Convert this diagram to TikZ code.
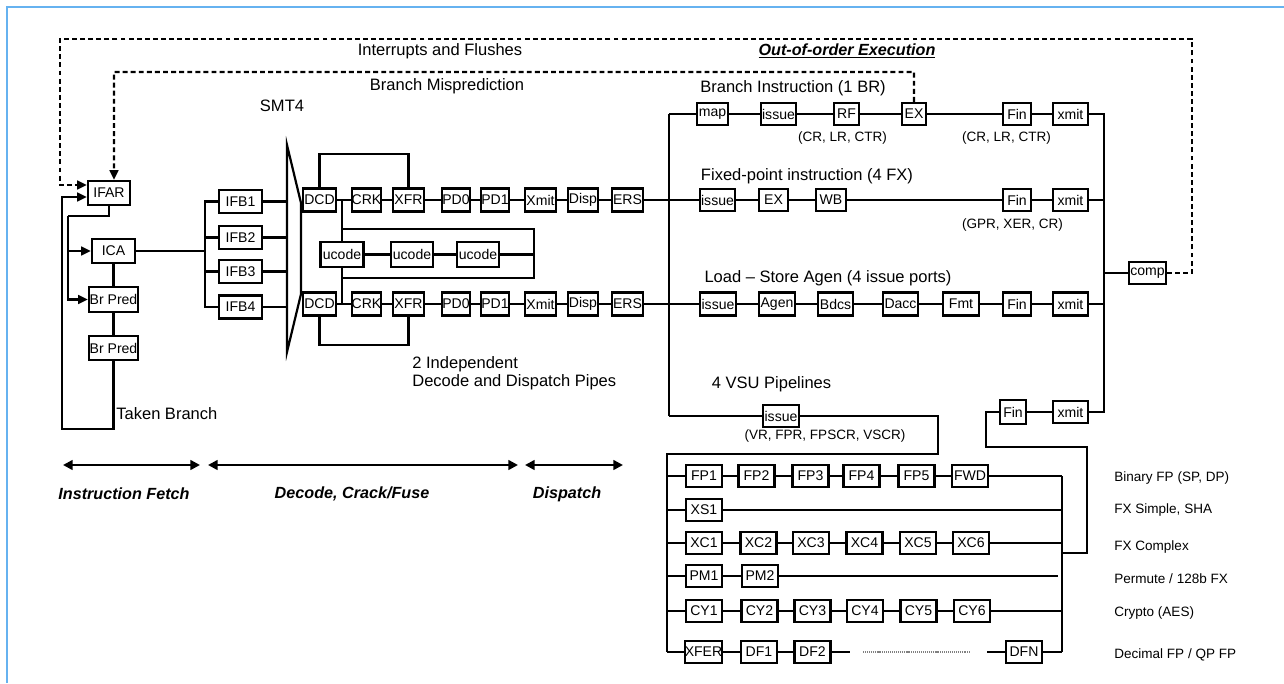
\documentclass[tikz,border=0pt]{standalone}
\usepackage{fontspec}
\setmainfont{Liberation Sans}
\usetikzlibrary{arrows.meta, positioning, calc}
\definecolor{frameblue}{RGB}{102,178,240}

\begin{document}
\begin{tikzpicture}[
    x=0.02cm, y=-0.02cm,
    stage/.style={
      rectangle,
      draw,
      fill=white,
      line width=1.3pt,
      inner sep=0pt,
      minimum width=0.62cm,
      minimum height=0.46cm,
      font=\fontsize{8}{9}\selectfont
    },
    vsu/.style={
      stage,
      minimum width=0.72cm,
      minimum height=0.43cm
    },
    wire/.style={
      line width=1.25pt
    },
    arrow/.style={
      wire,
      -{Triangle[length=5.5pt,width=5pt]}
    },
    flushline/.style={
      line width=1.2pt,
      dash pattern=on 2.8pt off 1.8pt,
      -{Triangle[length=5.5pt,width=5pt]}
    },
    span/.style={
      line width=1.5pt,
      {Triangle[length=5.5pt,width=5.5pt]}-{Triangle[length=5.5pt,width=5.5pt]}
    },
    txt/.style={inner sep=0pt, font=\fontsize{9.4}{10.5}\selectfont},
    note/.style={inner sep=0pt, font=\fontsize{7.7}{9}\selectfont},
    phase/.style={inner sep=0pt, font=\fontsize{9.2}{10}\selectfont\bfseries\itshape}
  ]

  \useasboundingbox (0,0) rectangle (1284,683);

  % Khung
  \draw[frameblue, line width=1.6pt] (7,683) -- (7,7) -- (1284,7);

  % Khối lấy lệnh
  \node[stage, minimum width=0.84cm, minimum height=0.48cm] (ifar) at (109,193) {IFAR};
  \node[stage, minimum width=0.86cm, minimum height=0.48cm] (ica) at (113.5,251) {ICA};
  \node[stage, minimum width=0.98cm, minimum height=0.49cm] (brpredA) at (113.5,299.5) {Br Pred};
  \node[stage, minimum width=0.98cm, minimum height=0.48cm] (brpredB) at (113.5,348) {Br Pred};

  \node[stage, minimum width=0.86cm] (ifbA) at (240.5,201.5) {IFB1};
  \node[stage, minimum width=0.86cm] (ifbB) at (240.5,237.5) {IFB2};
  \node[stage, minimum width=0.86cm] (ifbC) at (240.5,271.5) {IFB3};
  \node[stage, minimum width=0.86cm] (ifbD) at (240.5,307) {IFB4};

  % Hai đường giải mã
  \node[stage, minimum width=0.66cm] (dcdA) at (319.5,200) {DCD};
  \node[stage, minimum width=0.58cm] (crkA) at (366.5,200) {CRK};
  \node[stage, minimum width=0.62cm] (xfrA) at (408.5,200) {XFR};
  \node[stage, minimum width=0.56cm] (pdzA) at (456,200) {PD0};
  \node[stage, minimum width=0.52cm] (pdoA) at (495,200) {PD1};
  \node[stage, minimum width=0.62cm] (xmitA) at (540.5,200) {Xmit};
  \node[stage, minimum width=0.60cm] (dispA) at (583,200) {Disp};
  \node[stage, minimum width=0.62cm] (ersA) at (627.5,200) {ERS};

  \node[stage, minimum width=0.66cm] (dcdB) at (319.5,304) {DCD};
  \node[stage, minimum width=0.58cm] (crkB) at (366.5,304) {CRK};
  \node[stage, minimum width=0.62cm] (xfrB) at (408.5,304) {XFR};
  \node[stage, minimum width=0.56cm] (pdzB) at (456,304) {PD0};
  \node[stage, minimum width=0.52cm] (pdoB) at (495,304) {PD1};
  \node[stage, minimum width=0.62cm] (xmitB) at (540.5,304) {Xmit};
  \node[stage, minimum width=0.60cm] (dispB) at (583,304) {Disp};
  \node[stage, minimum width=0.62cm] (ersB) at (627.5,304) {ERS};

  \node[stage, minimum width=0.86cm, minimum height=0.5cm] (ucodeA) at (342,254.5) {ucode};
  \node[stage, minimum width=0.84cm, minimum height=0.5cm] (ucodeB) at (412,254.5) {ucode};
  \node[stage, minimum width=0.84cm, minimum height=0.5cm] (ucodeC) at (478,254.5) {ucode};

  % Nhánh, số nguyên, nạp/lưu
  \node[stage, minimum height=0.44cm] (mapBR) at (712.5,114) {map};
  \node[stage, minimum width=0.70cm, minimum height=0.44cm] (issueBR) at (778.5,114) {issue};
  \node[stage, minimum width=0.50cm, minimum height=0.44cm] (rfBR) at (846.5,114) {RF};
  \node[stage, minimum width=0.48cm, minimum height=0.44cm] (exBR) at (914,114) {EX};
  \node[stage, minimum width=0.56cm, minimum height=0.44cm] (finBR) at (1017,114) {Fin};
  \node[stage, minimum width=0.70cm, minimum height=0.44cm] (xmitBR) at (1070.5,114) {xmit};

  \node[stage, minimum width=0.70cm, minimum height=0.44cm] (issueFX) at (717.5,200) {issue};
  \node[stage, minimum width=0.58cm, minimum height=0.44cm] (exFX) at (773.5,200) {EX};
  \node[stage, minimum width=0.60cm, minimum height=0.44cm] (wbFX) at (831,200) {WB};
  \node[stage, minimum width=0.56cm, minimum height=0.44cm] (finFX) at (1017,200) {Fin};
  \node[stage, minimum width=0.70cm, minimum height=0.44cm] (xmitFX) at (1070.5,200) {xmit};

  \node[stage, minimum width=0.72cm] (issueLS) at (718,304) {issue};
  \node[stage, minimum width=0.72cm] (agenLS) at (777,304) {Agen};
  \node[stage, minimum width=0.70cm] (bdcsLS) at (835.5,304) {Bdcs};
  \node[stage, minimum width=0.70cm] (daccLS) at (900.5,304) {Dacc};
  \node[stage, minimum width=0.72cm] (fmtLS) at (961,304) {Fmt};
  \node[stage, minimum width=0.56cm] (finLS) at (1017,304) {Fin};
  \node[stage, minimum width=0.70cm] (xmitLS) at (1070.5,304) {xmit};

  \node[stage, minimum width=0.74cm, minimum height=0.44cm] (comp) at (1147.5,273) {comp};

  \node[stage, minimum width=0.72cm, minimum height=0.44cm] (issueVSU) at (781,416) {issue};
  \node[stage, minimum width=0.52cm, minimum height=0.48cm] (finVSU) at (1013,412) {Fin};
  \node[stage, minimum width=0.70cm, minimum height=0.44cm] (xmitVSU) at (1070.5,412) {xmit};

  % Các đường VSU
  \node[vsu] (fpA) at (704,476) {FP1};
  \node[vsu] (fpB) at (756.5,476) {FP2};
  \node[vsu] (fpC) at (810.5,476) {FP3};
  \node[vsu] (fpD) at (861.5,476) {FP4};
  \node[vsu] (fpE) at (916.5,476) {FP5};
  \node[vsu] (fwd) at (970,476) {FWD};

  \node[vsu] (xsA) at (704,510) {XS1};

  \node[vsu] (xcA) at (704,543) {XC1};
  \node[vsu] (xcB) at (758.5,543) {XC2};
  \node[vsu] (xcC) at (811,543) {XC3};
  \node[vsu] (xcD) at (864.5,543) {XC4};
  \node[vsu] (xcE) at (918,543) {XC5};
  \node[vsu] (xcF) at (971,543) {XC6};

  \node[vsu] (pmA) at (704,576) {PM1};
  \node[vsu] (pmB) at (760,576) {PM2};

  \node[vsu] (cyA) at (704,611) {CY1};
  \node[vsu] (cyB) at (759.5,611) {CY2};
  \node[vsu] (cyC) at (812.5,611) {CY3};
  \node[vsu] (cyD) at (865,611) {CY4};
  \node[vsu] (cyE) at (918.5,611) {CY5};
  \node[vsu] (cyF) at (972,611) {CY6};

  \node[vsu, minimum width=0.66cm] (xfer) at (703.5,652) {XFER};
  \node[vsu] (dfA) at (759,652) {DF1};
  \node[vsu] (dfB) at (812.5,652) {DF2};
  \node[vsu] (dfn) at (1024,652) {DFN};

  % Điểm nối
  \coordinate (fetchtap) at (68,216);
  \coordinate (takenturn) at (62,429);
  \coordinate (ifbbus) at (205,251);
  \coordinate (muxNW) at (287,145);
  \coordinate (muxNE) at (301,203);
  \coordinate (muxSE) at (301,294);
  \coordinate (muxSW) at (287,352);
  \coordinate (uloopNE) at (534,229);
  \coordinate (uloopSE) at (534,278);
  \coordinate (dispbusT) at (669,114);
  \coordinate (dispbusB) at (669,416);
  \coordinate (cmpbusT) at (1104,114);
  \coordinate (cmpbusB) at (1104,412);
  \coordinate (vsuNE) at (938,454);
  \coordinate (vsuNW) at (667,454);
  \coordinate (vsuSW) at (667,652);
  \coordinate (vsuoutT) at (1062,476);
  \coordinate (vsuoutB) at (1062,652);
  \coordinate (vsujoin) at (1062,553);
  \coordinate (vsuturnA) at (1087,553);
  \coordinate (vsuturnB) at (1087,447);
  \coordinate (vsuturnC) at (986,447);
  \coordinate (dotL) at (863,652);
  \coordinate (dotR) at (971,652);
  \coordinate (dfgap) at (987,652);
  \coordinate (flushNE) at (1192,39);
  \coordinate (flushNW) at (60,39);
  \coordinate (mispNW) at (114,72);

  % Các mũi tên lấy lệnh
  \draw[wire] (ifar.south) |- (fetchtap);
  \draw[arrow] (fetchtap) |- (brpredA.west);
  \draw[arrow] (fetchtap |- ica.west) -- (ica.west);
  \draw[wire] (ica) -- (brpredA);
  \draw[wire] (brpredA) -- (brpredB);
  \draw[arrow] (brpredB.south) |- (takenturn) |- ([yshift=-0.08cm]ifar.west);

  \draw[wire] (ica.east) -- (ifbbus);
  \draw[wire] (ifbA.west) -| (ifbbus);
  \draw[wire] (ifbD.west) -| (ifbbus);
  \draw[wire] (ifbB.west) -- (ifbB.west -| ifbbus);
  \draw[wire] (ifbC.west) -- (ifbC.west -| ifbbus);

  % Bộ chọn SMT4
  \draw[wire] (muxNW) -- (muxNE) -- (muxSE) -- (muxSW) -- cycle;
  \draw[wire] (ifbA.east) -- (ifbA.east -| muxNW);
  \draw[wire] (ifbB.east) -- (ifbB.east -| muxNW);
  \draw[wire] (ifbC.east) -- (ifbC.east -| muxNW);
  \draw[wire] (ifbD.east) -- (ifbD.east -| muxNW);

  % Giải mã
  \draw[wire] (dcdA) -- (crkA) -- (xfrA) -- (pdzA) -- (pdoA) -- (xmitA) -- (dispA) -- (ersA);
  \draw[wire] (dcdB) -- (crkB) -- (xfrB) -- (pdzB) -- (pdoB) -- (xmitB) -- (dispB) -- (ersB);
  \draw[wire] (dcdA.north) -- ++(0,-33) -| (xfrA.north);
  \draw[wire] (dcdB.south) -- ++(0,28) -| (xfrB.south);
  \draw[wire] (ucodeA.north |- dcdA) -- (ucodeA.north);
  \draw[wire] (ucodeA.south) -- (ucodeA.south |- dcdB);
  \draw[wire] (ucodeA.north |- uloopNE) -- (uloopNE) -- (uloopSE) -- (ucodeA.south |- uloopSE);
  \draw[wire] (ucodeA) -- (ucodeB) -- (ucodeC) -- (ucodeC -| uloopNE);

  % Phát lệnh
  \draw[wire] (dispbusT) -- (dispbusB);
  \draw[wire] (dispbusT) -- (mapBR);
  \draw[wire] (ersA) -- (issueFX);
  \draw[wire] (ersB) -- (issueLS);
  \draw[wire] (dispbusB) -- (issueVSU);

  \draw[wire] (mapBR) -- (issueBR) -- (rfBR) -- (exBR) -- (finBR) -- (xmitBR);
  \draw[wire] (issueFX) -- (exFX) -- (wbFX) -- (finFX) -- (xmitFX);
  \draw[wire] (issueLS) -- (agenLS) -- (bdcsLS) -- (daccLS) -- (fmtLS) -- (finLS) -- (xmitLS);
  \draw[wire] (finVSU) -- (xmitVSU);

  \draw[wire] (xmitBR) -- (cmpbusT) -- (cmpbusB) -- (xmitVSU);
  \draw[wire] (xmitFX) -- (xmitFX -| cmpbusT);
  \draw[wire] (xmitLS) -- (xmitLS -| cmpbusT);
  \draw[wire] (comp -| cmpbusT) -- (comp);

  % VSU
  \draw[wire] (issueVSU) -| (vsuNE) -- (vsuNW) -- (vsuSW);
  \draw[wire] (vsuoutT) -- (vsuoutB);
  \draw[wire] (fpA -| vsuNW) -- (fpA) -- (fpB) -- (fpC) -- (fpD) -- (fpE) -- (fwd) -- (fwd -| vsuoutT);
  \draw[wire] (xsA -| vsuNW) -- (xsA) -- (xsA -| vsuoutT);
  \draw[wire] (xcA -| vsuNW) -- (xcA) -- (xcB) -- (xcC) -- (xcD) -- (xcE) -- (xcF) -- (xcF -| vsuoutT);
  \draw[wire] (pmA -| vsuNW) -- (pmA) -- (pmB) -- ($(pmB -| vsuoutT)+(-4,0)$);
  \draw[wire] (cyA -| vsuNW) -- (cyA) -- (cyB) -- (cyC) -- (cyD) -- (cyE) -- (cyF) -- (cyF -| vsuoutT);
  \draw[wire] (vsuSW) -- (xfer) -- (dfA) -- (dfB) -- ($(dfB.east)+(18,0)$);
  \draw[gray, line width=1.3pt, dash pattern=on 0.6pt off 0.5pt] (dotL) -- (dotR);
  \draw[wire] (dfgap) -- (dfn) -- (vsuoutB);
  \draw[wire] (vsujoin) -- (vsuturnA) -- (vsuturnB) -- (vsuturnC) |- (finVSU);

  % Đường xả (nét đứt)
  \draw[flushline] (comp.east) -| (flushNE) -- (flushNW) |- ([yshift=0.16cm]ifar.west);
  \draw[flushline] (exBR.north) |- (mispNW) -- ([xshift=0.1cm]ifar.north);

  % Nhãn
  \node[txt] (intlbl) at (440,51) {Interrupts and Flushes};
  \node[phase] (ooolbl) at (847,51) {\underline{Out-of-order Execution}};
  \node[txt] (misplbl) at (447,86) {Branch Misprediction};
  \node[txt] (smtlbl) at (282,106) {SMT4};
  \node[txt] (brlbl) at (793,88) {Branch Instruction (1 BR)};
  \node[txt] (fxlbl) at (807,176) {Fixed-point instruction (4 FX)};
  \node[txt] (lslbl) at (828,278) {Load – Store Agen (4 issue ports)};
  \node[txt] (vsulbl) at (771.5,384) {4 VSU Pipelines};
  \node[txt, anchor=west] (takenlbl) at (116,414) {Taken Branch};
  \node[txt, anchor=west, align=left] (pipelbl) at (412,373) {2 Independent\\Decode and Dispatch Pipes};

  \node[note] (brregA) at (842.5,138) {(CR, LR, CTR)};
  \node[note] (brregB) at (1006.5,138) {(CR, LR, CTR)};
  \node[note] (fxreg) at (1012.5,225) {(GPR, XER, CR)};
  \node[note] (vsureg) at (825,436) {(VR, FPR, FPSCR, VSCR)};

  \node[note, anchor=west] (fplbl) at (1114,478) {Binary FP (SP, DP)};
  \node[note, anchor=west] (xslbl) at (1114,510) {FX Simple, SHA};
  \node[note, anchor=west] (xclbl) at (1114,547) {FX Complex};
  \node[note, anchor=west] (pmlbl) at (1114,579) {Permute / 128b FX};
  \node[note, anchor=west] (cylbl) at (1114,613) {Crypto (AES)};
  \node[note, anchor=west] (dflbl) at (1114,655) {Decimal FP / QP FP};

  % Các giai đoạn
  \coordinate (fetchL) at (63,465);
  \coordinate (fetchR) at (200,465);
  \coordinate (decodeL) at (208,465);
  \coordinate (decodeR) at (518,465);
  \coordinate (dispL) at (525,465);
  \coordinate (dispR) at (623,465);
  \draw[span] (fetchL) -- (fetchR);
  \draw[span] (decodeL) -- (decodeR);
  \draw[span] (dispL) -- (dispR);
  \node[phase] (fetchlbl) at (124,494) {Instruction Fetch};
  \node[phase] (decodelbl) at (352,494) {Decode, Crack/Fuse};
  \node[phase] (displbl) at (567,494) {Dispatch};

\end{tikzpicture}
\end{document}
